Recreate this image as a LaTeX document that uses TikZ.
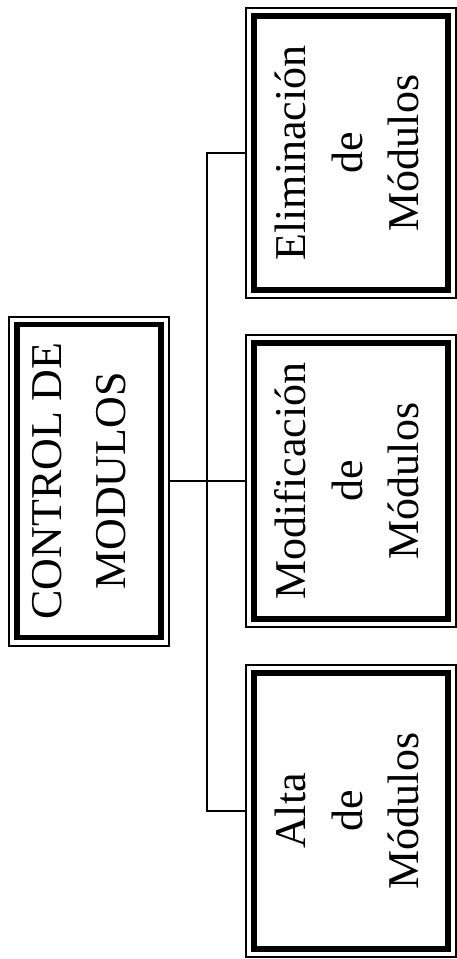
\documentclass[tikz,border=0pt]{standalone}
\usepackage{fontspec}
\setmainfont{Liberation Serif}
\usepackage{graphicx}
\usetikzlibrary{calc}
\tikzset{
  outerbox/.style={draw, line width=2pt, inner sep=0pt},
  innerbox/.style={draw, line width=5.5pt, inner sep=0pt},
  conn/.style={line width=1.8pt},
}
\newcommand{\rottext}[2]{\rotatebox{90}{\fontsize{44}{#1}\selectfont\begin{tabular}{@{}c@{}}#2\end{tabular}}}
\begin{document}
\begin{tikzpicture}[x=1pt,y=1pt]
\useasboundingbox[fill=white] (0,0) rectangle (457,-959);
% control
\node[outerbox, minimum width=160pt, minimum height=329pt] (ctrlo) at (89,-481) {};
\node[innerbox, minimum width=144pt, minimum height=313pt] (ctrl) at (89,-481) {\rottext{64}{CONTROL DE\\MODULOS}\hspace*{16pt}};
% eliminacion
\node[outerbox, minimum width=210pt, minimum height=290pt] (elimo) at (351,-153) {};
\node[innerbox, minimum width=194pt, minimum height=274pt] (elim) at (351,-153) {\rottext{56.5}{Eliminación\\de\\Módulos}};
% modificacion
\node[outerbox, minimum width=210pt, minimum height=292pt] (modifo) at (351,-481) {};
\node[innerbox, minimum width=194pt, minimum height=276pt] (modif) at (351,-481) {\rottext{56.5}{Modificación\\de\\Módulos}};
% alta
\node[outerbox, minimum width=210pt, minimum height=292pt] (altao) at (351,-811) {};
\node[innerbox, minimum width=194pt, minimum height=276pt] (alta) at (351,-811) {\rottext{56.5}{Alta\\de\\Módulos}};
% connectors
\coordinate (tt) at (207,-481);
\draw[conn] (ctrlo.east) -- (modifo.west);
\draw[conn] (elimo.west) -- (elimo.west -| tt) -- (altao.west -| tt) -- (altao.west);
\end{tikzpicture}
\end{document}
